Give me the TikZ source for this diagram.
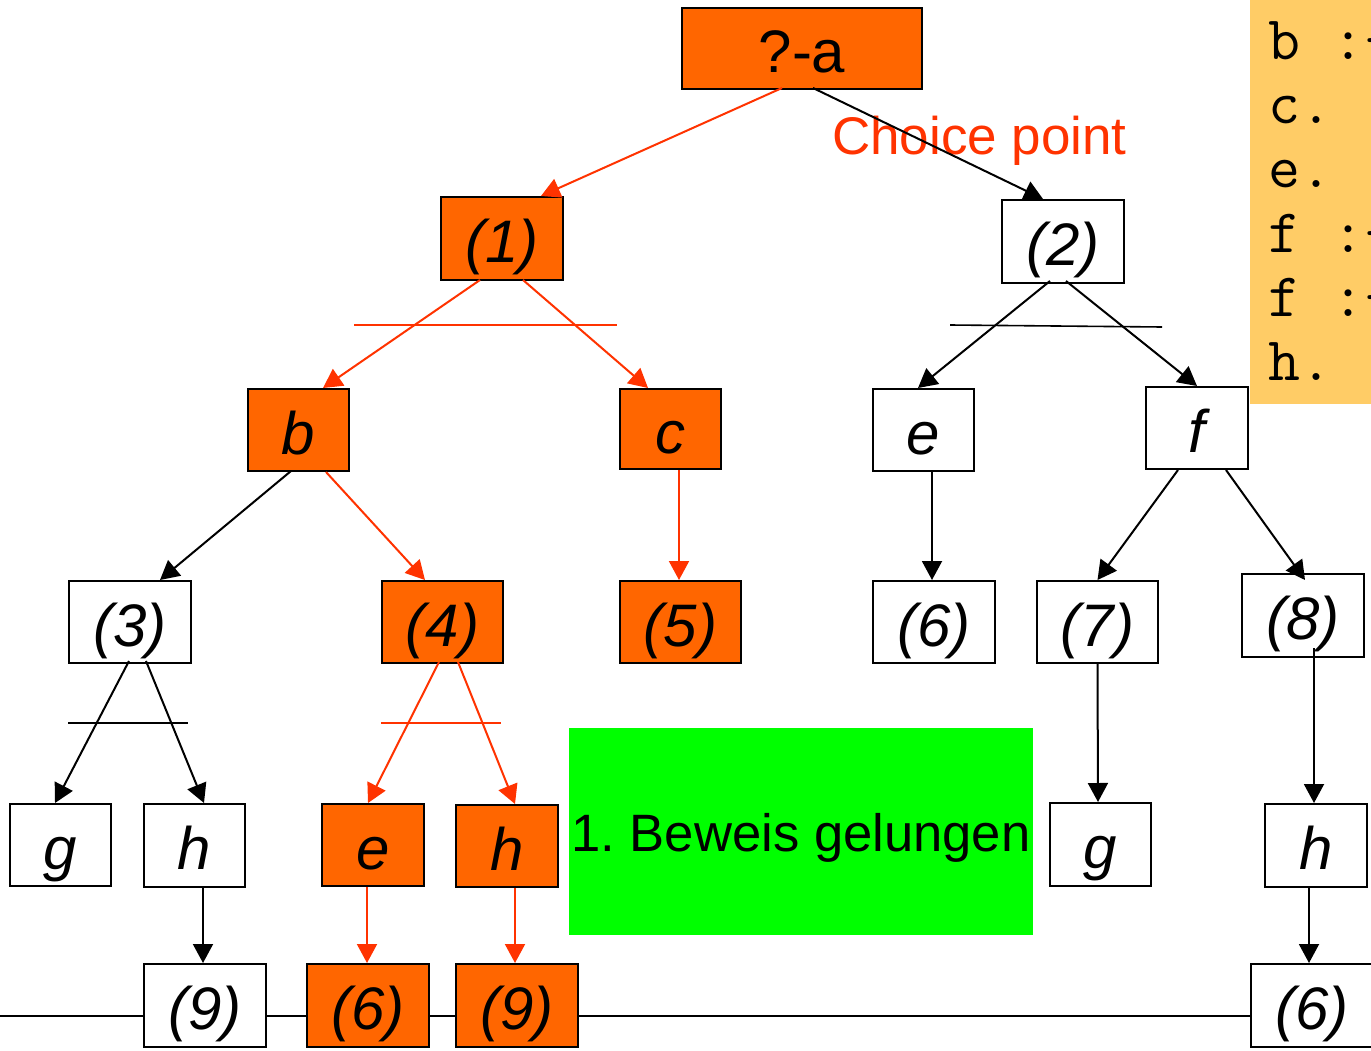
\documentclass[tikz,border=0pt]{standalone}
\usepackage{fontspec}
\setmainfont{Liberation Sans}
\usetikzlibrary{arrows.meta,calc}

\definecolor{proofOrange}{HTML}{FF6600}
\definecolor{pathRed}{HTML}{FF3300}
\definecolor{clauseYellow}{HTML}{FFCC66}
\definecolor{doneGreen}{HTML}{00FF00}

\newcommand{\goalfont}{\fontsize{60}{60}\selectfont\itshape}
\newcommand{\clausefont}{\fontsize{62}{64}\selectfont\ttfamily}

\begin{document}
\frenchspacing
\begin{tikzpicture}[x=1pt,y=-1pt,
  goal/.style={draw=black, line width=2pt, fill=white, inner sep=0pt,
    font=\goalfont, text height=54pt, text depth=6pt},
  active/.style={goal, fill=proofOrange},
  edge/.style={draw=black, line width=2pt, -{Triangle[length=19pt,width=20pt]}},
  redge/.style={edge, draw=pathRed},
  cutblack/.style={draw=black, line width=1.6pt},
  cutred/.style={draw=pathRed, line width=1.6pt},
  rail/.style={draw=black, line width=2pt}]

\useasboundingbox (0,0) rectangle (1371,1051);
\clip (0,0) rectangle (1371,1051);
\fill[white] (0,0) rectangle (1371,1051);

% horizontal rail behind the leaf goals
\coordinate (railL) at (0,1016);
\coordinate (railR) at (1251,1016);
\draw[rail] (railL) -- (railR);

% clause list on the right
\node[fill=clauseYellow, inner sep=0pt, minimum width=122pt, minimum height=404pt,
  anchor=north west] (clauses) at (1250,0) {};
\foreach \t [count=\i] in {b :-, c., e., f :-, f :-, h.}
  \node[anchor=base west, inner sep=0pt, font=\clausefont] (cl\i) at (1268,60+64*\i-64) {\t};

% success box
\node[fill=doneGreen, inner sep=0pt, minimum width=464pt, minimum height=207pt,
  font=\fontsize{52.6}{53}\selectfont, text height=42pt, text depth=2pt]
  (proof) at (801,831.5) {1. Beweis gelungen};

% goal tree
\node[active, minimum width=240pt, minimum height=81pt, font=\fontsize{60}{60}\selectfont]
  (qa) at (802,48.5) {?-a};
\node[active, minimum width=122pt, minimum height=83pt] (n1) at (502,238.5) {(1)};
\node[goal,   minimum width=122pt, minimum height=83pt] (n2) at (1063,241.5) {(2)};

\node[active, minimum width=101pt, minimum height=82pt] (b)  at (298.5,430) {b};
\node[active, minimum width=101pt, minimum height=80pt] (c)  at (670.5,429) {c};
\node[goal,   minimum width=101pt, minimum height=82pt] (e1) at (923.5,430) {e};
\node[goal,   minimum width=102pt, minimum height=82pt] (f)  at (1197,428) {f};

\node[goal,   minimum width=122pt, minimum height=82pt] (n3) at (130,622) {(3)};
\node[active, minimum width=121pt, minimum height=82pt] (n4) at (442.5,622) {(4)};
\node[active, minimum width=121pt, minimum height=82pt] (n5) at (680.5,622) {(5)};
\node[goal,   minimum width=122pt, minimum height=82pt] (n6) at (934,622) {(6)};
\node[goal,   minimum width=121pt, minimum height=82pt] (n7) at (1097.5,622) {(7)};
\node[goal,   minimum width=122pt, minimum height=83pt] (n8) at (1303,615.5) {(8)};

\node[goal,   minimum width=101pt, minimum height=82pt] (g1) at (60.5,845) {g};
\node[goal,   minimum width=101pt, minimum height=83pt] (h1) at (194.5,845.5) {h};
\node[active, minimum width=102pt, minimum height=82pt] (e2) at (373,845) {e};
\node[active, minimum width=102pt, minimum height=82pt] (h2) at (507,846) {h};
\node[goal,   minimum width=101pt, minimum height=83pt] (g2) at (1100.5,844.5) {g};
\node[goal,   minimum width=102pt, minimum height=83pt] (h3) at (1316,845.5) {h};

\node[goal,   minimum width=122pt, minimum height=83pt] (n9a) at (205,1005.5) {(9)};
\node[active, minimum width=122pt, minimum height=83pt] (n6a) at (368,1005.5) {(6)};
\node[active, minimum width=122pt, minimum height=83pt] (n9b) at (517,1005.5) {(9)};
\node[goal,   minimum width=122pt, minimum height=83pt] (n6b) at (1312,1005.5) {(6)};

% choice point label
\node[anchor=base west, inner sep=0pt, text=pathRed, font=\fontsize{53}{53}\selectfont]
  (cp) at (832,155) {Choice point};

% cut markers under choice points
\draw[cutred]   (354,325) -- (617,325);
\draw[cutblack] (950,325) -- (1162,327);
\draw[cutblack] (68,723)  -- (188,723);
\draw[cutred]   (381,723) -- (501,723);

% connectors
\draw[redge] ($(qa.south)+(-20,-2)$) -- ($(n1.north)+(39,0)$);
\draw[edge]  ($(qa.south)+(11,-2)$)  -- ($(n2.north)+(-20,0)$);

\draw[redge] ($(n1.south)+(-22,-1)$) -- ($(b.north)+(24.5,0)$);
\draw[redge] ($(n1.south)+(21,-1)$)  -- ($(c.north)+(-22.5,0)$);
\draw[edge]  ($(n2.south)+(-13,-3)$) -- ($(e1.north)+(-5.5,0)$);
\draw[edge]  ($(n2.south)+(3,-3)$)   -- (f.north);

\draw[edge]  ($(b.south)+(-7.5,-1)$) -- ($(n3.north)+(30,0)$);
\draw[redge] ($(b.south)+(27.5,0)$)  -- ($(n4.north)+(-17.5,0)$);
\draw[redge] ($(c.south)+(8.5,0)$)   -- ($(n5.north)+(-1.5,0)$);
\draw[edge]  ($(e1.south)+(8.5,0)$)  -- ($(n6.north)+(-2,0)$);
\draw[edge]  ($(f.south)+(-19,0)$)   -- (n7.north);
\draw[edge]  ($(f.south)+(29,0)$)    -- ($(n8.north)+(2,7)$);

\draw[edge]  ($(n3.south)+(-1,-3)$)  -- ($(g1.north)+(-5.5,0)$);
\draw[edge]  ($(n3.south)+(16,-3)$)  -- ($(h1.north)+(9.5,0)$);
\draw[redge] ($(n4.south)+(-3.5,-2)$) -- ($(e2.north)+(-5,0)$);
\draw[redge] ($(n4.south)+(15.5,-2)$) -- ($(h2.north)+(8,0)$);
\draw[edge]  (n7.south) -- ($(g2.north)+(-2.5,0)$);
\draw[edge]  ($(n8.south)+(11,-10)$) -- ($(h3.north)+(-2,0)$);

\draw[edge]  ($(h1.south)+(8.5,0)$)  -- ($(n9a.north)+(-2,0)$);
\draw[redge] ($(e2.south)+(-6,0)$)   -- ($(n6a.north)+(-1,0)$);
\draw[redge] ($(h2.south)+(8,0)$)    -- ($(n9b.north)+(-2,0)$);
\draw[edge]  ($(h3.south)+(-7,0)$)   -- ($(n6b.north)+(-3,0)$);

\end{tikzpicture}
\end{document}
